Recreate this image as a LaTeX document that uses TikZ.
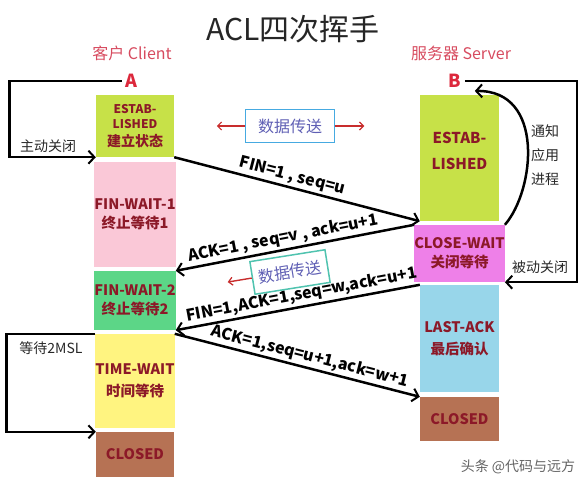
\documentclass[tikz,border=0pt]{standalone}
\usepackage{fontspec}
\setmainfont{Noto Sans CJK SC}
\usetikzlibrary{arrows.meta}
\definecolor{estgreen}{RGB}{199,225,72}
\definecolor{fwpink}{RGB}{250,200,215}
\definecolor{fwgreen}{RGB}{92,214,135}
\definecolor{twyellow}{RGB}{255,244,128}
\definecolor{clbrown}{RGB}{182,114,84}
\definecolor{cwviolet}{RGB}{238,128,232}
\definecolor{lablue}{RGB}{152,214,234}
\definecolor{boxtxt}{RGB}{140,25,40}
\definecolor{hdred}{RGB}{215,75,95}
\definecolor{abred}{RGB}{220,40,60}
\definecolor{arred}{RGB}{200,45,45}
\definecolor{dtblue}{RGB}{70,170,225}
\definecolor{dtteal}{RGB}{80,195,175}
\definecolor{dttxt}{RGB}{95,95,180}
\definecolor{sidetxt}{RGB}{40,40,40}
\definecolor{wmgray}{RGB}{100,100,100}

\begin{document}
\begin{tikzpicture}[x=1pt,y=-1pt,
	stbox/.style={minimum width=78pt,inner sep=0pt,align=center,text=boxtxt,font=\bfseries\fontsize{14.5}{19}\selectfont},
	lnk/.style={line width=2.5pt,-{Straight Barb[length=6pt,width=13pt,line width=2pt]}},
	msg/.style={sloped,above,inner sep=2pt,font=\bfseries\fontsize{16}{16}\selectfont},
	hdr/.style={text=hdred,font=\fontsize{16}{16}\selectfont},
	ab/.style={text=abred,font=\bfseries\fontsize{18}{18}\selectfont},
	side/.style={text=sidetxt,font=\fontsize{14}{24}\selectfont,align=center},
	dtbox/.style={line width=1.5pt,text=dttxt,inner sep=0pt,font=\fontsize{16}{16}\selectfont},
	redar/.style={draw=arred,line width=1.4pt,-{Straight Barb[length=4pt,width=8pt,line width=1.2pt]}}]
	\useasboundingbox (0,0) rectangle (588,479);

	\node[font=\fontsize{30}{30}\selectfont,text=black!85] (title) at (293,29) {ACL四次挥手};
	\node[hdr] (cli) at (132,53) {客户 Client};
	\node[hdr] (srv) at (461,53) {服务器 Server};
	\node[ab] (A) at (131,81) {A};
	\node[ab] (B) at (455,81) {B};

	\node[stbox,fill=estgreen,minimum height=62pt,font=\bfseries\fontsize{12}{15}\selectfont] (aest) at (135,126) {ESTAB-\\LISHED\\[3pt]{\fontsize{14}{16}\selectfont 建立状态}};
	\node[stbox,fill=fwpink,minimum height=105pt] (afw1) at (135,214.5) {FIN-WAIT-1\\终止等待1};
	\node[stbox,fill=fwgreen,minimum height=59pt] (afw2) at (135,300.5) {FIN-WAIT-2\\终止等待2};
	\node[stbox,fill=twyellow,minimum height=94pt,font=\bfseries\fontsize{14.5}{22}\selectfont] (atw) at (135,381) {TIME-WAIT\\时间等待};
	\node[stbox,fill=clbrown,minimum height=45pt] (acl) at (135,454.5) {CLOSED};

	\node[stbox,fill=estgreen,minimum width=79pt,minimum height=126pt,text depth=15pt,font=\bfseries\fontsize{15}{26}\selectfont] (best) at (459.5,158) {ESTAB-\\LISHED};
	\node[stbox,fill=cwviolet,minimum width=79pt,minimum height=57pt] (bcw) at (459.5,253.5) {CLOSE-WAIT\\关闭等待};
	\node[stbox,fill=lablue,minimum width=79pt,minimum height=107pt,font=\bfseries\fontsize{14.5}{22}\selectfont] (bla) at (459.5,338.5) {LAST-ACK\\最后确认};
	\node[stbox,fill=clbrown,minimum width=79pt,minimum height=44pt] (bcl) at (459.5,419) {CLOSED};

	\node[side] (zd) at (48,146) {主动关闭};
	\node[side] (wt) at (51,348) {等待2MSL};
	\node[side] (bd) at (540,267) {被动关闭};
	\node[side] (tz) at (545,155) {通知\\应用\\进程};

	\draw[lnk] (A.west) -- ++(-112,0) |- (aest.south west);
	\draw[lnk] (B.east) -- ++(112,0) |- (bcw.south east);
	\draw[lnk] (atw.north west) -- ++(-89,0) |- (acl.north west);
	\draw[lnk] (bcw.north east) .. controls (535,190) and (545,90) .. ([xshift=10pt,yshift=-10pt]B.east);

	\draw[lnk] (aest.south east) -- node[msg,pos=0.47] (m1) {FIN=1 , seq=u} (best.south west);
	\draw[lnk] (bcw.north west) -- node[msg,pos=0.54] (m2) {ACK=1 , seq=v , ack=u+1} (afw2.north east);
	\draw[lnk] (bla.north west) -- node[msg,pos=0.475] (m3) {FIN=1,ACK=1,seq=w,ack=u+1} (afw2.south east);
	\draw[lnk] (atw.north east) -- node[msg,pos=0.54] (m4) {ACK=1,seq=u+1,ack=w+1} (bcl.north west);

	\node[dtbox,draw=dtblue,minimum width=89pt,minimum height=33pt] (dt1) at (290,126) {数据传送};
	\draw[redar] (dt1.west) -- ++(-28,0);
	\draw[redar] (dt1.east) -- ++(29,0);
	\node[dtbox,draw=dtteal,minimum width=76pt,minimum height=33pt,rotate=9] (dt2) at (290,272) {数据传送};
	\draw[redar] (dt2.west) -- ++(-24,4);

	\node[text=wmgray,font=\fontsize{14}{14}\selectfont] (wm) at (518,467) {头条 @代码与远方};
\end{tikzpicture}
\end{document}
